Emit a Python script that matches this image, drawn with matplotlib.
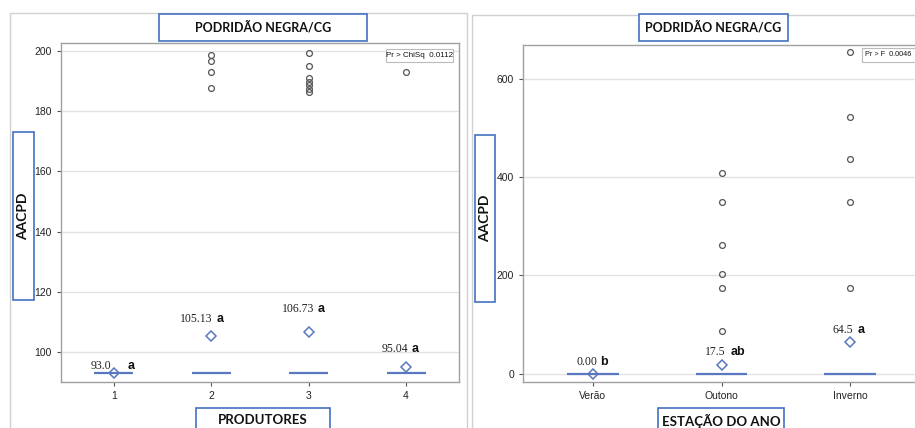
import matplotlib
matplotlib.use("Agg")
import matplotlib.pyplot as plt
from matplotlib.patches import Rectangle
import numpy as np

# ---------------- data ----------------
title = "PODRIDÃO NEGRA/CG"
ylabel = "AACPD"

prod_cats = ["1", "2", "3", "4"]
prod_median = [93.0, 93.0, 93.0, 93.0]
prod_mean = [93.0, 105.13, 106.73, 95.04]
prod_mean_text = ["93.0", "105.13", "106.73", "95.04"]
prod_letters = ["a", "a", "a", "a"]
prod_outliers = [[], [198.6, 196.7, 193.1, 187.6],
                 [199.3, 195.2, 191.1, 189.9, 188.7, 187.5, 186.3], [193.1]]
prod_xlabel = "PRODUTORES"
prod_stat = "Pr > ChiSq  0.0112"
prod_yticks = [100, 120, 140, 160, 180, 200]

seas_cats = ["Verão", "Outono", "Inverno"]
seas_median = [0.0, 0.0, 0.0]
seas_mean = [0.0, 17.5, 64.5]
seas_mean_text = ["0.00", "17.5", "64.5"]
seas_letters = ["b", "ab", "a"]
seas_outliers = [[], [408, 350, 262, 203, 174, 87], [655, 523, 437, 350, 174]]
seas_xlabel = "ESTAÇÃO DO ANO"
seas_stat = "Pr > F  0.0046"
seas_yticks = [0, 200, 400, 600]

# ---------------- layout ----------------
W, H = 915, 428
fig = plt.figure(figsize=(W / 100, H / 100), dpi=100)

def fx(px):
    return px / W

def fy(py):
    return 1 - py / H

BLUE = "#4472c4"
MARK = "#5a78bf"
GRID = "#e3e3e3"
SPINE = "#a0a0a0"

def frame(x0, y0, x1, y1, color, lw, fill=True, z=10):
    r = Rectangle((fx(x0), fy(y1)), fx(x1) - fx(x0), fy(y0) - fy(y1),
                  transform=fig.transFigure, fill=fill, facecolor="white",
                  edgecolor=color, linewidth=lw, zorder=z)
    fig.patches.append(r)
    return r

# outer panel frames
frame(10, 13, 467, 440, "#d0d0d0", 1.0, fill=False, z=-1)
frame(472, 15, 930, 440, "#d0d0d0", 1.0, fill=False, z=-1)

def panel(ax_px, cats, med, mean, mtext, letters, outl, ylim, yticks, label_layout):
    x0, y0, x1, y1 = ax_px
    ax = fig.add_axes([fx(x0), fy(y1), fx(x1) - fx(x0), fy(y0) - fy(y1)])
    ax.set_facecolor("none")
    n = len(cats)
    xs = np.arange(1, n + 1)
    ax.set_xlim(0.456, n + 0.544)
    ax.set_ylim(*ylim)
    ax.set_yticks(yticks)
    ax.set_xticks(xs)
    ax.set_xticklabels(cats)
    ax.yaxis.grid(True, color=GRID, lw=1.0)
    ax.set_axisbelow(True)
    for s in ax.spines.values():
        s.set_color(SPINE)
        s.set_linewidth(1.0)
    ax.tick_params(axis="both", colors="#555555", labelsize=7.5, length=3, width=0.8,
                   labelcolor="#222222")
    for lab in ax.get_xticklabels() + ax.get_yticklabels():
        lab.set_family("Liberation Sans")
    for i, x in enumerate(xs):
        ax.plot([x - 0.2, x + 0.2], [med[i], med[i]], color=MARK, lw=1.6,
                solid_capstyle="butt", zorder=3)
        if outl[i]:
            ax.plot([x] * len(outl[i]), outl[i], "o", ms=4.2, mfc="none",
                    mec="#555555", mew=0.9, zorder=4)
        ax.plot([x], [mean[i]], "D", ms=5.5, mfc="none", mec=MARK, mew=1.1, zorder=5)
        ne, ls, up = label_layout[i]
        ax.annotate(mtext[i], (x, mean[i]), xytext=(ne * 0.72, up * 0.72),
                    textcoords="offset points", ha="right", va="baseline",
                    family="Liberation Serif", fontsize=8.5, color="#222222")
        ax.annotate(letters[i], (x, mean[i]), xytext=(ls * 0.72, up * 0.72),
                    textcoords="offset points", ha="left", va="baseline",
                    family="Liberation Sans", fontweight="bold", fontsize=9,
                    color="#111111")
    return ax

# label layout: (number end offset px, letter start offset px, baseline above mean px)
prod_layout = [(-3, 14, 4), (1, 5, 14), (6, 9, 20), (2, 6, 15)]
seas_layout = [(4, 7, 9), (4, 9, 10), (3, 8, 9)]

axL = panel((61, 43, 459, 382), prod_cats, prod_median, prod_mean, prod_mean_text,
            prod_letters, prod_outliers, (90.0, 202.7), prod_yticks, prod_layout)
axR = panel((523, 45, 920, 382), seas_cats, seas_median, seas_mean, seas_mean_text,
            seas_letters, seas_outliers, (-17, 669), seas_yticks, seas_layout)

def boxed_text(x0, y0, x1, y1, text, color, lw, size, rot=0, weight="bold",
               family="Lato", tx=None, ty=None, va="center", ha="center"):
    frame(x0, y0, x1, y1, color, lw, fill=True, z=10)
    if tx is None:
        tx = (x0 + x1) / 2
    if ty is None:
        ty = (y0 + y1) / 2
    fig.text(fx(tx), fy(ty), text, ha=ha, va=va, rotation=rot, fontsize=size,
             fontweight=weight, family=family, color="#111111", zorder=11)

# titles
boxed_text(159, 14, 367, 41, title, BLUE, 1.2, 9)
boxed_text(639, 14, 788, 41, title, BLUE, 1.2, 9)
# y labels
boxed_text(13, 132, 34, 300, ylabel, BLUE, 1.2, 10, rot=90, ty=216)
boxed_text(475, 135, 495, 302, ylabel, BLUE, 1.2, 10, rot=90, ty=218)
# x labels
boxed_text(196, 408, 330, 440, prod_xlabel, BLUE, 1.2, 9.5, ty=414, va="top")
boxed_text(658, 408, 784, 440, seas_xlabel, BLUE, 1.2, 9.5, ty=414, va="top")
# stat boxes
boxed_text(386, 49, 453, 62, prod_stat, "#bbbbbb", 0.8, 5.8, weight="normal",
           family="Liberation Sans")
boxed_text(862, 48, 925, 62, seas_stat, "#bbbbbb", 0.8, 5.2, weight="normal",
           family="Liberation Sans", tx=865, ha="left")

fig.savefig("out.png", dpi=100)
